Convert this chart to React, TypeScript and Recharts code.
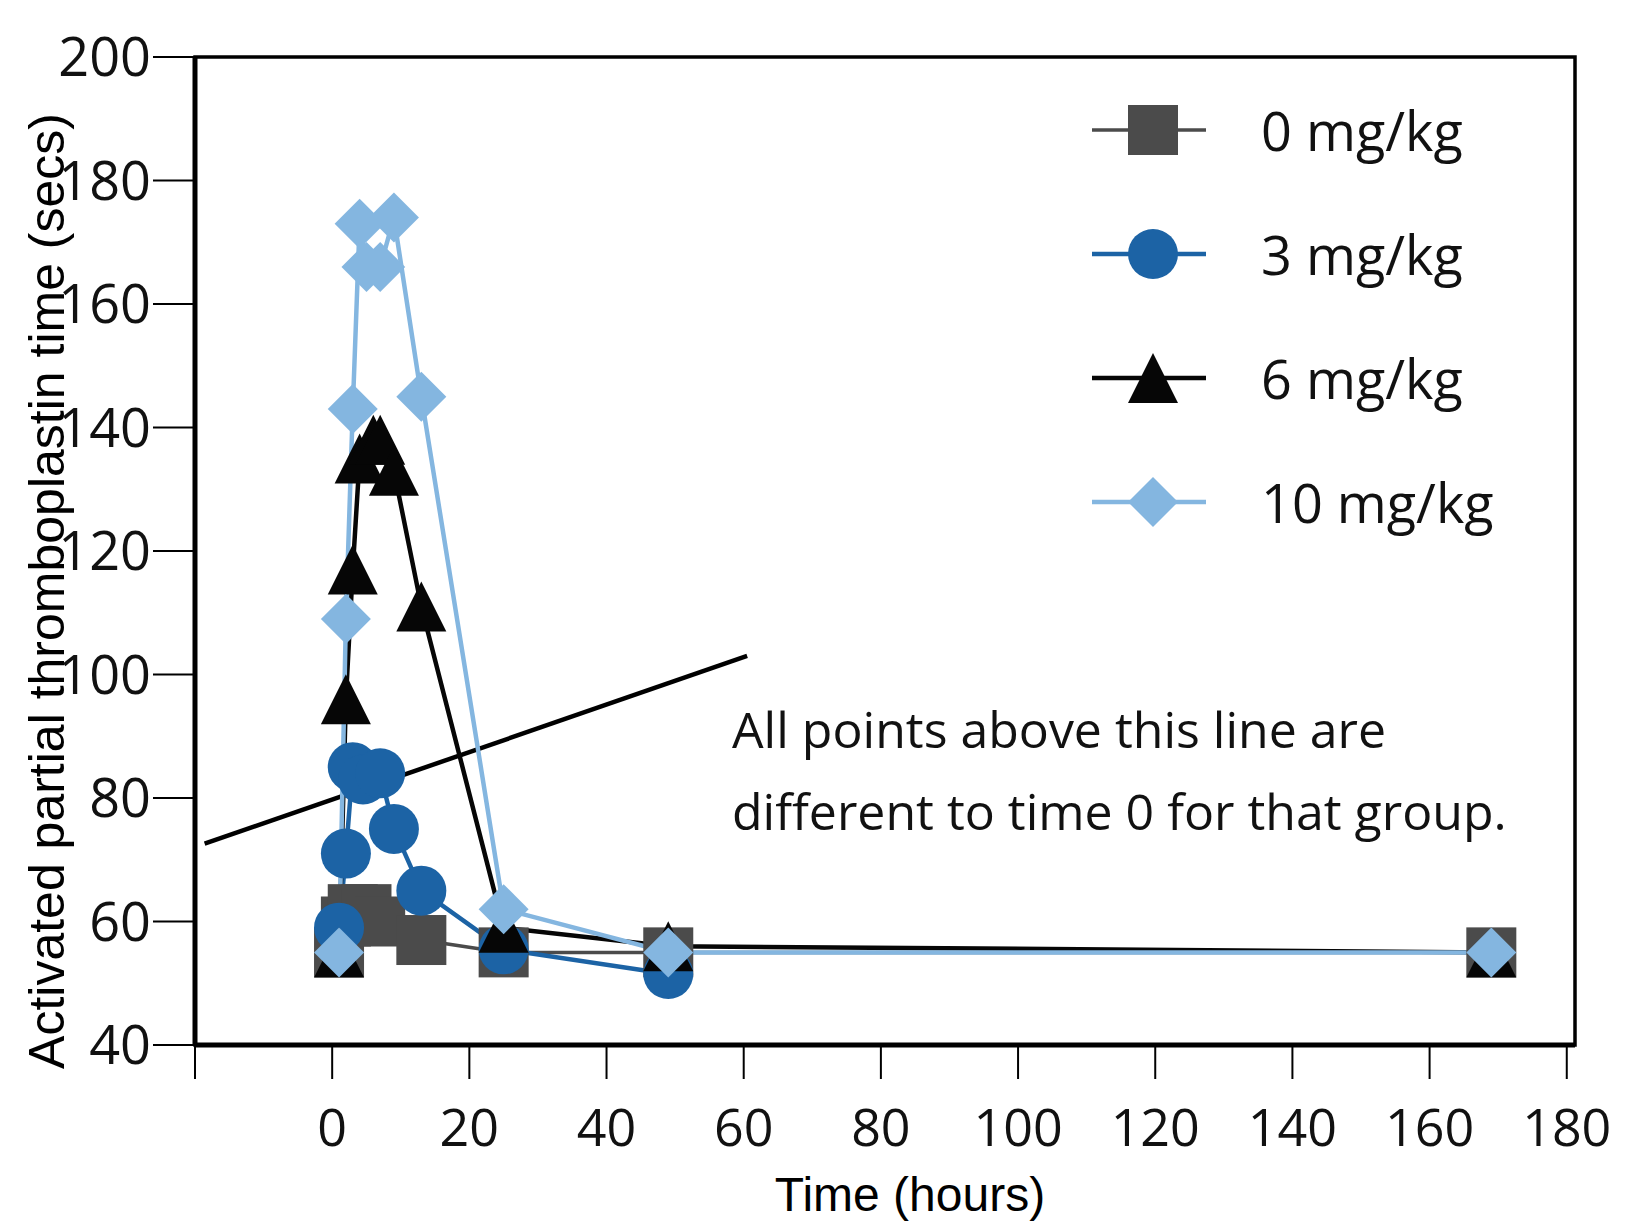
import React from "react";
import {
  LineChart,
  Line,
  XAxis,
  YAxis,
  ReferenceLine,
  ReferenceArea,
} from "recharts";

const xTicks = [-20, 0, 20, 40, 60, 80, 100, 120, 140, 160, 180];
const yTicks = [40, 60, 80, 100, 120, 140, 160, 180, 200];

// 0 mg/kg
const hours0 = [1, 2, 3, 5, 7, 13, 25, 49, 169];
const aptt0 = [55, 60, 62, 62, 60, 57, 55, 55, 55];
// 3 mg/kg
const hours3 = [1, 2, 3, 4.5, 7, 9, 13, 25, 49];
const aptt3 = [59, 71, 85, 83, 84, 75, 65, 55.5, 51.5];
// 6 mg/kg
const hours6 = [1, 2, 3, 4, 6, 7, 9, 13, 25, 49, 169];
const aptt6 = [55, 96, 117, 135, 138, 138, 133, 111, 59, 56, 55];
// 10 mg/kg
const hours10 = [1, 2, 3, 4, 5, 7, 9, 13, 25, 49, 169];
const aptt10 = [55, 109, 143, 173, 166, 166, 174, 145, 62, 55, 55];

const seriesNames = ["0 mg/kg", "3 mg/kg", "6 mg/kg", "10 mg/kg"];
const seriesColors = ["#4b4b4b", "#1c63a5", "#060606", "#84b6e0"];
const seriesShapes = ["square", "circle", "triangle", "diamond"];
const seriesWidths = [3.5, 4.5, 4.5, 4.5];

const cutoffLine = [
  { x: -18.6, y: 72.6 },
  { x: 60.5, y: 103 },
];
const noteLines = [
  "All points above this line are",
  "different to time 0 for that group.",
];

const toRows = (hours: number[], vals: number[]) =>
  hours.map((t, i) => ({ t, v: vals[i] }));

const seriesData = [
  toRows(hours0, aptt0),
  toRows(hours3, aptt3),
  toRows(hours6, aptt6),
  toRows(hours10, aptt10),
];

const tickFont = "'Open Sans', 'Noto Sans', sans-serif";
const titleFont = "'Liberation Sans', Arial, sans-serif";

function Marker({ shape, cx, cy, color }: any) {
  const r = 25;
  if (shape === "square")
    return <rect x={cx - r} y={cy - r} width={2 * r} height={2 * r} fill={color} />;
  if (shape === "circle") return <circle cx={cx} cy={cy} r={r} fill={color} />;
  if (shape === "triangle")
    return (
      <polygon
        points={`${cx},${cy - r} ${cx + r},${cy + r} ${cx - r},${cy + r}`}
        fill={color}
      />
    );
  return (
    <polygon
      points={`${cx},${cy - r} ${cx + r},${cy} ${cx},${cy + r} ${cx - r},${cy}`}
      fill={color}
    />
  );
}

const dotFor = (i: number) => (props: any) => {
  const { cx, cy, index } = props;
  if (cx == null || cy == null) return <g key={`n-${i}-${index}`} />;
  return (
    <Marker
      key={`d-${i}-${index}`}
      shape={seriesShapes[i]}
      cx={cx}
      cy={cy}
      color={seriesColors[i]}
    />
  );
};

function LegendBox() {
  return (
    <div style={{ position: "absolute", left: 1092, top: 68 }}>
      {seriesNames.map((name, i) => (
        <div
          key={name}
          style={{ display: "flex", alignItems: "center", height: 124 }}
        >
          <svg width={114} height={60}>
            <line
              x1={0}
              x2={114}
              y1={30}
              y2={30}
              stroke={seriesColors[i]}
              strokeWidth={seriesWidths[i]}
            />
            <Marker shape={seriesShapes[i]} cx={61} cy={30} color={seriesColors[i]} />
          </svg>
          <span
            style={{
              marginLeft: 55,
              fontFamily: tickFont,
              fontSize: 54,
              color: "#111",
              whiteSpace: "nowrap",
            }}
          >
            {name}
          </span>
        </div>
      ))}
    </div>
  );
}

export default function App() {
  return (
    <div style={{ position: "absolute", left: 0, top: 0, width: 1627, height: 1222, background: "#fff" }}>
      <LineChart
        width={1627}
        height={1222}
        margin={{ top: 57, right: 52, left: 0, bottom: 0 }}
      >
        <XAxis
          type="number"
          dataKey="t"
          domain={[-20, 181.2]}
          ticks={xTicks}
          allowDataOverflow
          height={177}
          tickSize={34}
          tickMargin={30}
          axisLine={{ stroke: "#000", strokeWidth: 5 }}
          tickLine={{ stroke: "#000", strokeWidth: 2 }}
          tickFormatter={(v: number) => (v < 0 ? "" : String(v))}
          tick={{ fontFamily: tickFont, fontSize: 52, fill: "#111" }}
          label={{
            content: () => (
              <text
                x={910}
                y={1194}
                textAnchor="middle"
                dominantBaseline="central"
                fontFamily={titleFont}
                fontSize={48}
                fill="#000"
              >
                Time (hours)
              </text>
            ),
          }}
        />
        <YAxis
          type="number"
          domain={[40, 200]}
          ticks={yTicks}
          width={195}
          tickSize={42}
          tickMargin={2}
          axisLine={{ stroke: "#000", strokeWidth: 5 }}
          tickLine={{ stroke: "#000", strokeWidth: 2 }}
          tick={{ fontFamily: tickFont, fontSize: 54, fill: "#111" }}
          label={{
            content: () => (
              <text
                x={47}
                y={591}
                transform="rotate(-90, 47, 591)"
                textAnchor="middle"
                dominantBaseline="central"
                fontFamily={titleFont}
                fontSize={50}
                fill="#000"
              >
                Activated partial thromboplastin time (secs)
              </text>
            ),
          }}
        />
        <ReferenceArea
          x1={-20}
          x2={181.2}
          y1={40}
          y2={200}
          fill="none"
          stroke="#000"
          strokeWidth={3.5}
          ifOverflow="visible"
        />
        <ReferenceLine segment={cutoffLine} stroke="#000" strokeWidth={4.5} />
        {seriesData.map((rows, i) => (
          <Line
            key={seriesNames[i]}
            data={rows}
            dataKey="v"
            name={seriesNames[i]}
            stroke={seriesColors[i]}
            strokeWidth={seriesWidths[i]}
            dot={dotFor(i)}
            activeDot={false}
            isAnimationActive={false}
          />
        ))}
      </LineChart>
      <LegendBox />
      <svg
        width={1627}
        height={1222}
        style={{ position: "absolute", left: 0, top: 0, pointerEvents: "none" }}
      >
        {noteLines.map((s, i) => (
          <text
            key={s}
            x={732}
            y={748 + i * 82}
            fontFamily={tickFont}
            fontSize={50}
            fill="#111"
          >
            {s}
          </text>
        ))}
      </svg>
    </div>
  );
}
